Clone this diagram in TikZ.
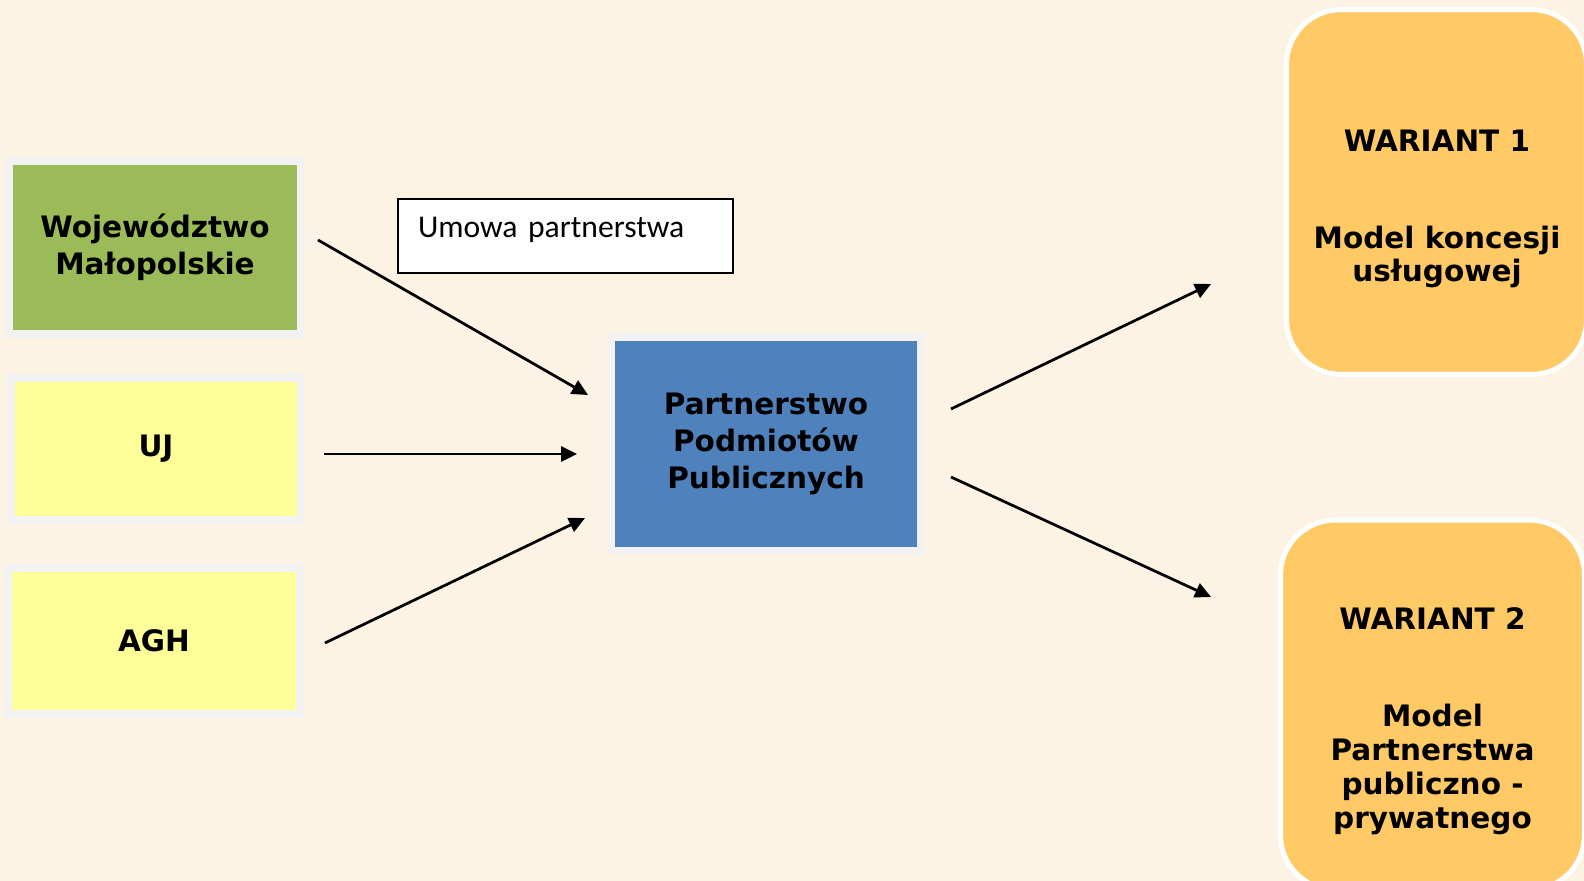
\documentclass[tikz,border=0pt]{standalone}
\usepackage{fontspec}
\setmainfont{DejaVu Sans}
\newfontfamily\umowafont{Carlito}
\usetikzlibrary{arrows.meta}
\definecolor{bgcream}{HTML}{FDF3E4}
\definecolor{boxgray}{HTML}{F2F2F2}
\definecolor{wmgreen}{HTML}{9BBB59}
\definecolor{uniyellow}{HTML}{FFFF99}
\definecolor{ppsblue}{HTML}{4F81BD}
\definecolor{varorange}{HTML}{FFCA66}

\begin{document}
\begin{tikzpicture}
[x=0.02cm, y=-0.02cm,
 every node/.style=
   {font=\fontsize{16.8}{21.3}\selectfont\bfseries, align=center, outer sep=0pt, inner sep=0pt},
 member/.style={rectangle, draw=boxgray, line width=0.16cm},
 variant/.style={rectangle, rounded corners=1.1cm, draw=white, line width=0.1cm, fill=varorange},
 vartext/.style={font=\fontsize{16.8}{19.3}\selectfont\bfseries},
 arr/.style={-{Triangle[length=0.32cm,width=0.3cm]}, line width=0.055cm}]
\fill [bgcream] (0,0) rectangle (1584,881);
\useasboundingbox (0,0) rectangle (1584,881);

\node (wm) [member, fill=wmgreen, minimum width=5.84cm, minimum height=3.46cm]
  at (155,247.5) {Województwo\\Małopolskie};
\node (uj) [member, fill=uniyellow, minimum width=5.82cm, minimum height=2.84cm]
  at (156,449) {UJ};
\node (agh) [member, fill=uniyellow, minimum width=5.84cm, minimum height=2.92cm]
  at (154,641) {AGH};

\node (pps) [member, fill=ppsblue, minimum width=6.2cm, minimum height=4.28cm]
  at (766,444) {Partnerstwo\\Podmiotów\\Publicznych};

\node (umowa) [draw=black, line width=0.04cm, fill=white, minimum width=6.7cm,
  minimum height=1.48cm, text width=5.9cm, inner xsep=0.4cm, align=left, text depth=0.33cm,
  font=\umowafont\fontsize{18}{21}\selectfont] at (565.5,236) {Umowa partnerstwa};

\node (war1) [variant, minimum width=6cm, minimum height=7.3cm] at (1436.5,192) {};
\node (war1txt) [vartext] at (1437,209) {WARIANT 1\\[1.26cm]Model koncesji\\usługowej};
\node (war2) [variant, minimum width=6.08cm, minimum height=7.4cm] at (1432.5,705) {};
\node (war2txt) [vartext] at (1432.5,721)
  {WARIANT 2\\[1.26cm]Model\\Partnerstwa\\publiczno -\\prywatnego};

\draw [arr] ([shift={(17,-7.5)}]wm.east) -- ([shift={(-23,-49)}]pps.west);
\draw [arr] ([shift={(23,5)}]uj.east) -- ([shift={(-34,10)}]pps.west);
\draw [arr] ([shift={(25,2)}]agh.east) -- ([shift={(-26,74)}]pps.west);
\draw [arr] ([shift={(30,-35)}]pps.east) -- ([shift={(-75.5,92)}]war1.west);
\draw [arr] ([shift={(30,33)}]pps.east) -- ([shift={(-69.5,-108)}]war2.west);
\end{tikzpicture}
\end{document}
